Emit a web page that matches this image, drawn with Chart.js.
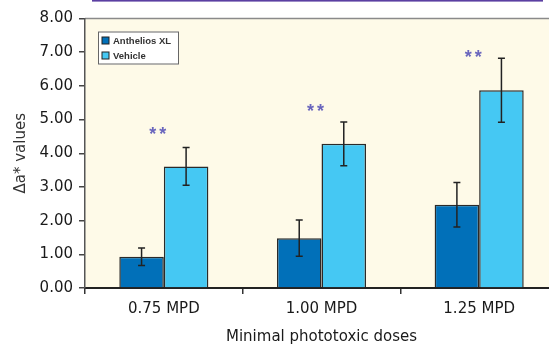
<!DOCTYPE html>
<html>
<head>
<meta charset="utf-8">
<script src="https://cdn.jsdelivr.net/npm/chart.js@4"></script>
<style>
  html, body { margin: 0; padding: 0; background: #fff; }
  #wrap { width: 549px; height: 346px; overflow: hidden; position: relative; }
  #wrap canvas { position: absolute; left: 0; top: 0; }
</style>
</head>
<body>
<div id="wrap"><canvas id="barChart" width="560" height="346"></canvas></div>
<script>
const categories = ['0.75 MPD', '1.00 MPD', '1.25 MPD'];
const anthelios = [0.93, 1.48, 2.47];
const antheliosErr = [0.26, 0.54, 0.66];
const vehicle = [3.61, 4.28, 5.87];
const vehicleErr = [0.56, 0.65, 0.95];
// height of the "**" significance marks, in axis units
const starLevels = [4.66, 5.35, 6.94];
const errors = [antheliosErr, vehicleErr];

const FONT = "'DejaVu Sans', sans-serif";

// cream plot background + header rule
const backdrop = {
  id: 'backdrop',
  beforeDraw(chart) {
    const { ctx, chartArea: a } = chart;
    ctx.save();
    ctx.fillStyle = '#fefae8';
    ctx.fillRect(a.left, a.top, a.right - a.left, a.bottom - a.top);
    ctx.strokeStyle = '#8a8a8a';
    ctx.lineWidth = 1.5;
    ctx.beginPath();
    ctx.moveTo(a.left, a.top);
    ctx.lineTo(a.right, a.top);
    ctx.stroke();
    ctx.fillStyle = '#5b3fa2';
    ctx.fillRect(92, 0, 451, 1.6);
    ctx.restore();
  }
};

// error bars, stars and the boxed legend
const extras = {
  id: 'extras',
  afterDatasetsDraw(chart) {
    const { ctx, chartArea: a } = chart;
    const y = chart.scales.y, x = chart.scales.x;
    ctx.save();
    ctx.strokeStyle = '#222';
    ctx.lineWidth = 1.5;
    chart.data.datasets.forEach((ds, di) => {
      chart.getDatasetMeta(di).data.forEach((bar, i) => {
        const v = ds.data[i], e = errors[di][i];
        const top = y.getPixelForValue(v + e), bot = y.getPixelForValue(v - e);
        ctx.beginPath();
        ctx.moveTo(bar.x, top); ctx.lineTo(bar.x, bot);
        ctx.moveTo(bar.x - 3.5, top); ctx.lineTo(bar.x + 3.5, top);
        ctx.moveTo(bar.x - 3.5, bot); ctx.lineTo(bar.x + 3.5, bot);
        ctx.stroke();
      });
    });

    ctx.fillStyle = '#6a66bd';
    ctx.font = "bold 18px 'Liberation Sans', sans-serif";
    ctx.textAlign = 'center';
    ctx.textBaseline = 'middle';
    starLevels.forEach((s, i) => {
      const cx = x.getPixelForValue(i) - 6;
      const cy = y.getPixelForValue(s) + 4;
      ctx.fillText('*', cx - 5, cy);
      ctx.fillText('*', cx + 5, cy);
    });

    // legend
    const lx = a.left + 13, ly = a.top + 13;
    ctx.fillStyle = '#fff';
    ctx.fillRect(lx, ly, 81, 33);
    ctx.strokeStyle = '#666';
    ctx.lineWidth = 1;
    ctx.strokeRect(lx + 0.5, ly + 0.5, 80, 32);
    ctx.font = "bold 9.5px 'Liberation Sans', sans-serif";
    ctx.textAlign = 'left';
    chart.data.datasets.forEach((ds, di) => {
      const ry = ly + 9 + di * 15;
      ctx.fillStyle = ds.backgroundColor;
      ctx.fillRect(lx + 4, ry - 3.5, 7, 7);
      ctx.strokeStyle = '#222';
      ctx.strokeRect(lx + 4, ry - 3.5, 7, 7);
      ctx.fillStyle = '#333';
      ctx.fillText(ds.label, lx + 15, ry + 0.5);
    });
    ctx.restore();
  }
};

new Chart(document.getElementById('barChart'), {
  type: 'bar',
  data: {
    labels: categories,
    datasets: [
      { label: 'Anthelios XL', data: anthelios, backgroundColor: '#0170b9', borderColor: '#2a2a2a', borderWidth: 1.5 },
      { label: 'Vehicle', data: vehicle, backgroundColor: '#45c8f3', borderColor: '#2a2a2a', borderWidth: 1.5 }
    ]
  },
  options: {
    responsive: false,
    animation: false,
    devicePixelRatio: 1,
    layout: { padding: { top: 18.5, right: 2, left: 12, bottom: 0 } },
    datasets: { bar: { categoryPercentage: 0.565, barPercentage: 1 } },
    plugins: { legend: { display: false }, tooltip: { enabled: false } },
    scales: {
      x: {
        afterFit(s) { s.height = 58; },
        grid: { offset: true, drawOnChartArea: false, tickLength: 6, color: '#333', lineWidth: 1.5 },
        border: { color: '#222', width: 2 },
        ticks: { color: '#1a1a1a', font: { family: FONT, size: 15 }, padding: 6 },
        title: { display: true, text: 'Minimal phototoxic doses', color: '#1a1a1a', font: { family: FONT, size: 15 }, padding: { top: 6, bottom: 0 } }
      },
      y: {
        min: 0, max: 8,
        afterFit(s) { s.width = 73; },
        grid: { drawOnChartArea: false, tickLength: 6, color: '#444', lineWidth: 1.5 },
        border: { color: '#555', width: 1.5 },
        ticks: { stepSize: 1, color: '#1a1a1a', font: { family: FONT, size: 15 }, padding: 6, callback: v => v.toFixed(2) },
        title: { display: true, text: 'Δa* values', color: '#333', font: { family: FONT, size: 15 }, padding: { top: 0, bottom: 4 } }
      }
    }
  },
  plugins: [backdrop, extras]
});
</script>
</body>
</html>
